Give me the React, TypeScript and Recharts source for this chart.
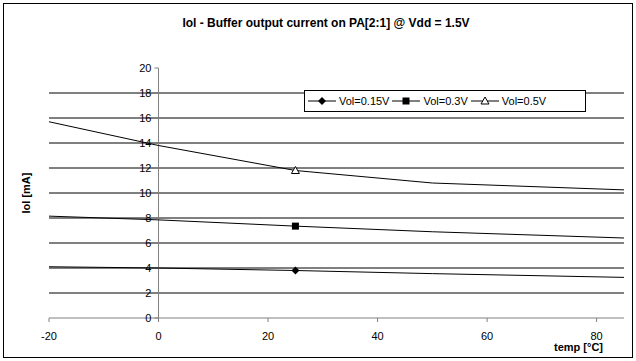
import React from 'react'
import { LineChart, Line, XAxis, YAxis, ReferenceLine } from 'recharts'

const TEMPS = [-20, 0, 25, 50, 85]
const VOL_015 = [4.1, 4.0, 3.8, 3.55, 3.25]
const VOL_03 = [8.15, 7.85, 7.35, 6.9, 6.4]
const VOL_05 = [15.7, 13.8, 11.8, 10.8, 10.25]
const MARKER_TEMP = 25

const X_TICKS = [-20, 0, 20, 40, 60, 80]
const Y_TICKS = [0, 2, 4, 6, 8, 10, 12, 14, 16, 18, 20]
const GRID_VALUES = [2, 4, 6, 8, 10, 12, 14, 16, 18]

const SERIES = [
  { key: 'v015', name: 'Vol=0.15V', shape: 'diamond' },
  { key: 'v03', name: 'Vol=0.3V', shape: 'square' },
  { key: 'v05', name: 'Vol=0.5V', shape: 'triangle' },
]

const data = TEMPS.map((t, i) => ({ temp: t, v015: VOL_015[i], v03: VOL_03[i], v05: VOL_05[i] }))

const FONT = '"Liberation Sans", Arial, sans-serif'

function Marker({ shape, cx, cy }: { shape: string; cx: number; cy: number }) {
  if (shape === 'diamond') {
    return <polygon points={`${cx},${cy - 4} ${cx + 4},${cy} ${cx},${cy + 4} ${cx - 4},${cy}`} fill="#000" />
  }
  if (shape === 'square') {
    return <rect x={cx - 3.5} y={cy - 3.5} width={7} height={7} fill="#000" />
  }
  return (
    <polygon
      points={`${cx},${cy - 4} ${cx + 4},${cy + 3} ${cx - 4},${cy + 3}`}
      fill="#fff"
      stroke="#000"
      strokeWidth={1}
    />
  )
}

const makeDot = (shape: string) => (props: any) => {
  const { cx, cy, payload, index } = props
  if (payload.temp !== MARKER_TEMP) return <g key={index} />
  return <Marker key={index} shape={shape} cx={cx} cy={cy} />
}

// legend drawn as a plain box so it takes no room from the plot
function LegendBox() {
  return (
    <div
      style={{
        position: 'absolute',
        left: 304,
        top: 90,
        width: 282,
        border: '1px solid #000',
        background: '#fff',
        height: 22,
        boxSizing: 'border-box',
        display: 'flex',
        alignItems: 'center',
        paddingLeft: 3,
        fontFamily: FONT,
        fontSize: 11,
        color: '#000',
      }}
    >
      {SERIES.map((s) => (
        <span key={s.key} style={{ display: 'flex', alignItems: 'center', marginRight: 3 }}>
          <svg width={28} height={10} style={{ marginRight: 3 }}>
            <line x1={0} y1={5} x2={28} y2={5} stroke="#000" />
            <Marker shape={s.shape} cx={14} cy={5} />
          </svg>
          <span>{s.name}</span>
        </span>
      ))}
    </div>
  )
}

export default function App() {
  return (
    <div style={{ position: 'fixed', left: 0, top: 0, width: 636, height: 361, background: '#fff' }}>
      <div
        style={{
          position: 'absolute',
          left: 3,
          top: 3,
          width: 630,
          height: 355,
          border: '1px solid #000',
          boxSizing: 'border-box',
        }}
      />
      <div
        style={{
          position: 'absolute',
          left: 0,
          width: 652,
          top: 16,
          textAlign: 'center',
          fontFamily: FONT,
          fontWeight: 'bold',
          fontSize: 12,
        }}
      >
        Iol - Buffer output current on PA[2:1] @ Vdd = 1.5V
      </div>
      <div
        style={{
          position: 'absolute',
          left: 26,
          top: 193,
          transform: 'translate(-50%, -50%) rotate(-90deg)',
          fontFamily: FONT,
          fontWeight: 'bold',
          fontSize: 11,
          whiteSpace: 'nowrap',
        }}
      >
        Iol [mA]
      </div>
      <div
        style={{
          position: 'absolute',
          left: 554,
          top: 341,
          fontFamily: FONT,
          fontWeight: 'bold',
          fontSize: 11,
          whiteSpace: 'nowrap',
        }}
      >
        temp [°C]
      </div>
      <div style={{ position: 'absolute', left: 0, top: 0 }}>
        <LineChart
          width={636}
          height={361}
          data={data}
          margin={{ top: 68, right: 12, bottom: 13, left: 49 }}
          style={{ fontFamily: FONT }}
        >
          <XAxis
            dataKey="temp"
            type="number"
            domain={[-20, 85]}
            ticks={X_TICKS}
            allowDataOverflow
            height={30}
            stroke="#808080"
            tickSize={4}
            tickMargin={10}
            tick={{ fill: '#000', fontSize: 11 }}
          />
          <YAxis hide type="number" domain={[0, 20]} ticks={Y_TICKS} allowDataOverflow />
          {GRID_VALUES.map((v) => (
            <ReferenceLine key={'g' + v} y={v} stroke="#000" strokeWidth={1} />
          ))}
          <ReferenceLine x={0} stroke="#808080" />
          {Y_TICKS.map((v) => (
            <ReferenceLine
              key={'yt' + v}
              segment={[
                { x: -0.75, y: v },
                { x: 0, y: v },
              ]}
              stroke="#808080"
              ifOverflow="visible"
              label={{ value: String(v), position: 'left', offset: 3, fill: '#000', fontSize: 11 }}
            />
          ))}
          {SERIES.map((s) => (
            <Line
              key={s.key}
              dataKey={s.key}
              name={s.name}
              stroke="#000"
              strokeWidth={1}
              dot={makeDot(s.shape)}
              activeDot={false}
              isAnimationActive={false}
            />
          ))}
        </LineChart>
      </div>
      <LegendBox />
    </div>
  )
}
